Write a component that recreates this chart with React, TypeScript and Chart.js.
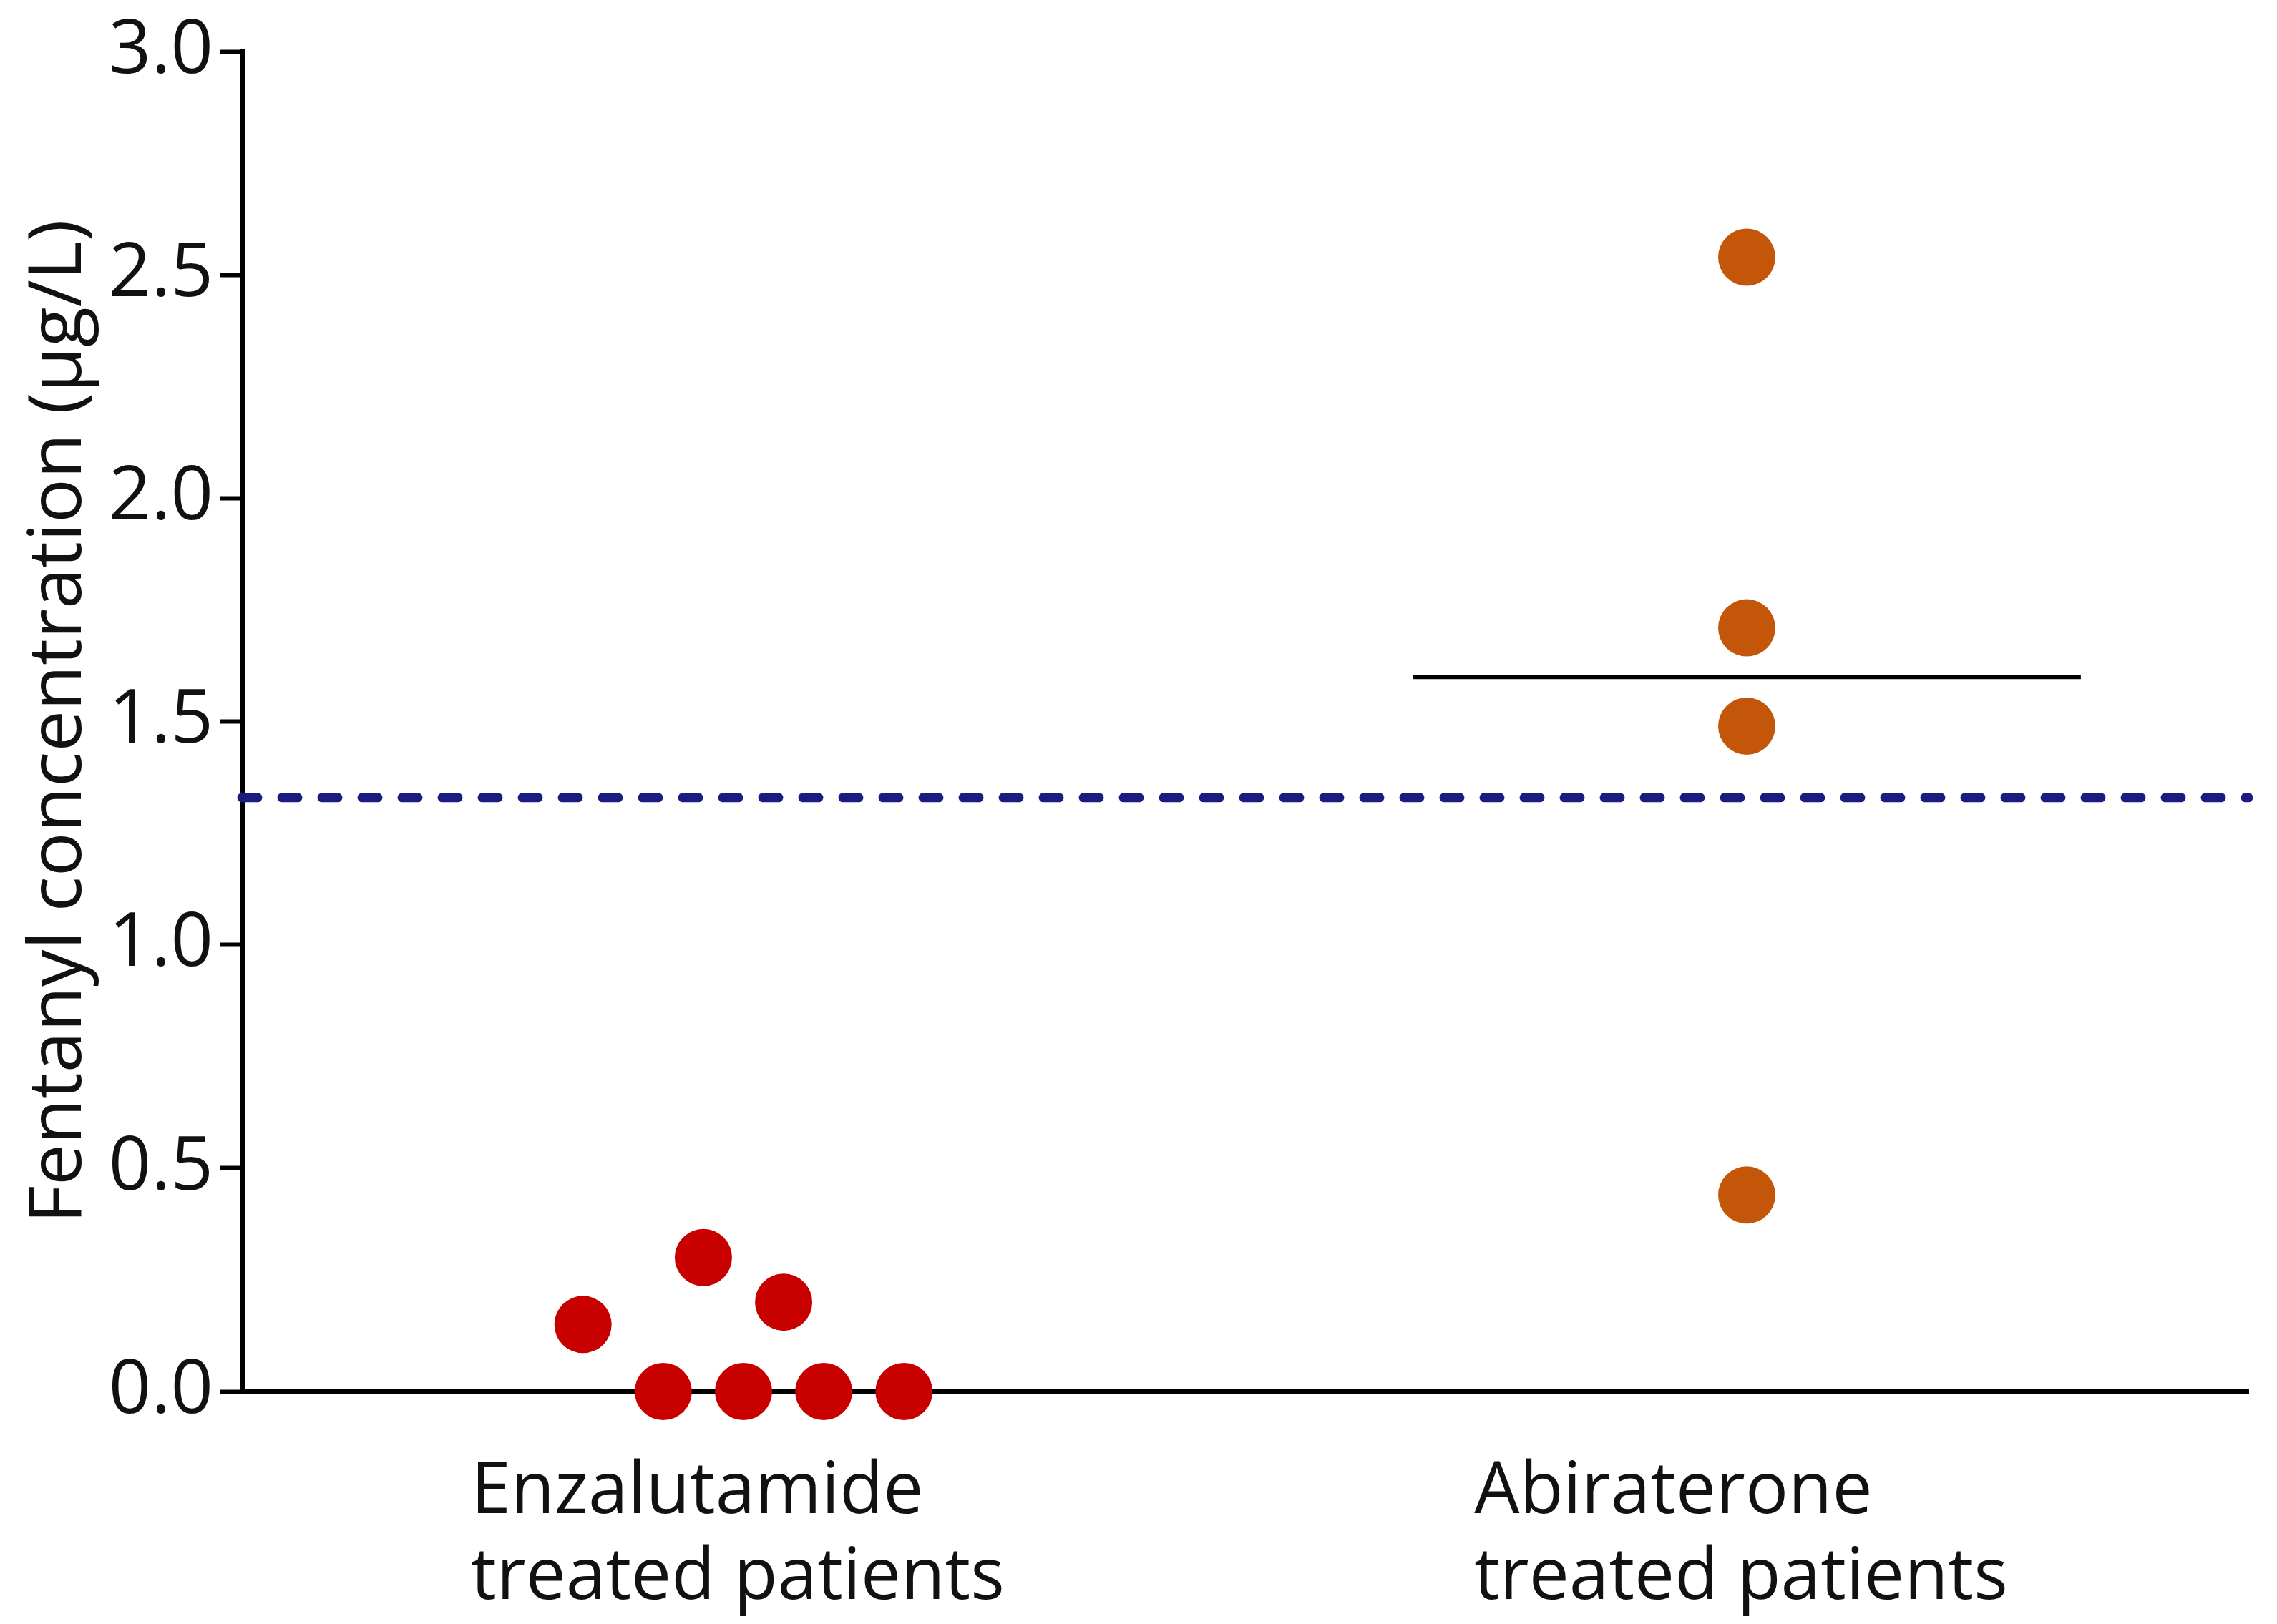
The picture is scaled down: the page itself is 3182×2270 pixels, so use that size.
import React, { useEffect, useRef } from 'react';
import { Chart, registerables } from 'chart.js';

Chart.register(...registerables);

// ---- data ----
const categoryLabels: string[][] = [
  ['Enzalutamide', 'treated patients'],
  ['Abiraterone', 'treated patients'],
];
const categoryPositions = [1, 2];
const enzalutamideValues = [0.15, 0.30, 0.20, 0, 0, 0, 0];
const enzalutamideJitter = [-0.16, -0.04, 0.04, -0.08, 0, 0.08, 0.16];
const abirateroneValues = [2.54, 1.71, 1.49, 0.44];
const abirateroneJitter = [0, 0, 0, 0];
const medianValues = [0, 1.6];
const thresholdValue = 1.33;
const yTickValues = [0, 0.5, 1.0, 1.5, 2.0, 2.5, 3.0];
const yAxisTitle = 'Fentanyl concentration (µg/L)';

const FONT = '"Open Sans", "Noto Sans", sans-serif';

const categoryLabelPlugin = {
  id: 'categoryLabels',
  afterDraw(chart: any) {
    const ctx = chart.ctx;
    const xs = chart.scales.x;
    const area = chart.chartArea;
    ctx.save();
    ctx.font = `100px ${FONT}`;
    ctx.fillStyle = '#111';
    ctx.textAlign = 'left';
    ctx.textBaseline = 'alphabetic';
    categoryLabels.forEach((lines, i) => {
      const cx = xs.getPixelForValue(categoryPositions[i]);
      const w = Math.max(...lines.map((l) => ctx.measureText(l).width));
      lines.forEach((l, j) => {
        ctx.fillText(l, cx - w / 2 - 8, area.bottom + 170 + j * 120);
      });
    });
    ctx.restore();
  },
};

export default function App() {
  const ref = useRef<HTMLCanvasElement | null>(null);

  useEffect(() => {
    if (!ref.current) return;
    const halfWidth = 0.333;
    const medianLines = medianValues.map((m, i) => ({
      type: 'line' as const,
      label: 'median ' + i,
      data: [
        { x: categoryPositions[i] - halfWidth, y: m },
        { x: categoryPositions[i] + halfWidth, y: m },
      ],
      borderColor: '#000',
      borderWidth: 6,
      pointRadius: 0,
      showLine: true,
      order: 2,
      clip: false as any,
    }));

    const chart = new Chart(ref.current, {
      type: 'scatter',
      data: {
        datasets: [
          {
            label: 'Enzalutamide',
            data: enzalutamideValues.map((v, i) => ({ x: categoryPositions[0] + enzalutamideJitter[i], y: v })),
            backgroundColor: '#c90000',
            borderColor: '#c90000',
            borderWidth: 0,
            pointRadius: 40,
            order: 0,
            clip: false as any,
          },
          {
            label: 'Abiraterone',
            data: abirateroneValues.map((v, i) => ({ x: categoryPositions[1] + abirateroneJitter[i], y: v })),
            backgroundColor: '#c4560a',
            borderColor: '#c4560a',
            borderWidth: 0,
            pointRadius: 40,
            order: 0,
            clip: false as any,
          },
          ...medianLines,
          {
            type: 'line' as const,
            label: 'threshold',
            data: [
              { x: 0.5, y: thresholdValue },
              { x: 2.5, y: thresholdValue },
            ],
            borderColor: '#1c1c80',
            borderWidth: 13,
            borderDash: [22, 34],
            borderCapStyle: 'round',
            pointRadius: 0,
            showLine: true,
            order: 1,
            clip: false as any,
          },
        ] as any,
      },
      options: {
        animation: false,
        responsive: true,
        maintainAspectRatio: false,
        layout: { padding: { left: 22, top: 67, right: 32, bottom: 0 } },
        plugins: {
          legend: { display: false },
          tooltip: { enabled: false },
        },
        scales: {
          x: {
            type: 'linear',
            min: 0.5,
            max: 2.5,
            ticks: { display: false },
            grid: { display: false },
            border: { display: true, color: '#000', width: 7 },
            afterFit: (s: any) => {
              s.height = 325;
            },
          },
          y: {
            type: 'linear',
            min: 0,
            max: 3,
            afterBuildTicks: (s: any) => {
              s.ticks = yTickValues.map((v) => ({ value: v }));
            },
            ticks: {
              color: '#111',
              font: { family: FONT, size: 104 },
              padding: 10,
              callback: (v: any) => Number(v).toFixed(1),
            },
            grid: {
              drawOnChartArea: false,
              drawTicks: true,
              tickLength: 30,
              tickWidth: 6,
              tickColor: '#000',
            },
            border: { display: true, color: '#000', width: 7 },
            title: {
              display: true,
              text: yAxisTitle,
              color: '#111',
              font: { family: FONT, size: 103 },
              padding: 0,
            },
            afterFit: (s: any) => {
              s.width = 316;
            },
          },
        },
      },
      plugins: [categoryLabelPlugin],
    });
    return () => chart.destroy();
  }, []);

  return (
    <div style={{ position: 'fixed', left: 0, top: 0, width: 3182, height: 2270, background: '#fff' }}>
      <canvas ref={ref} />
    </div>
  );
}
